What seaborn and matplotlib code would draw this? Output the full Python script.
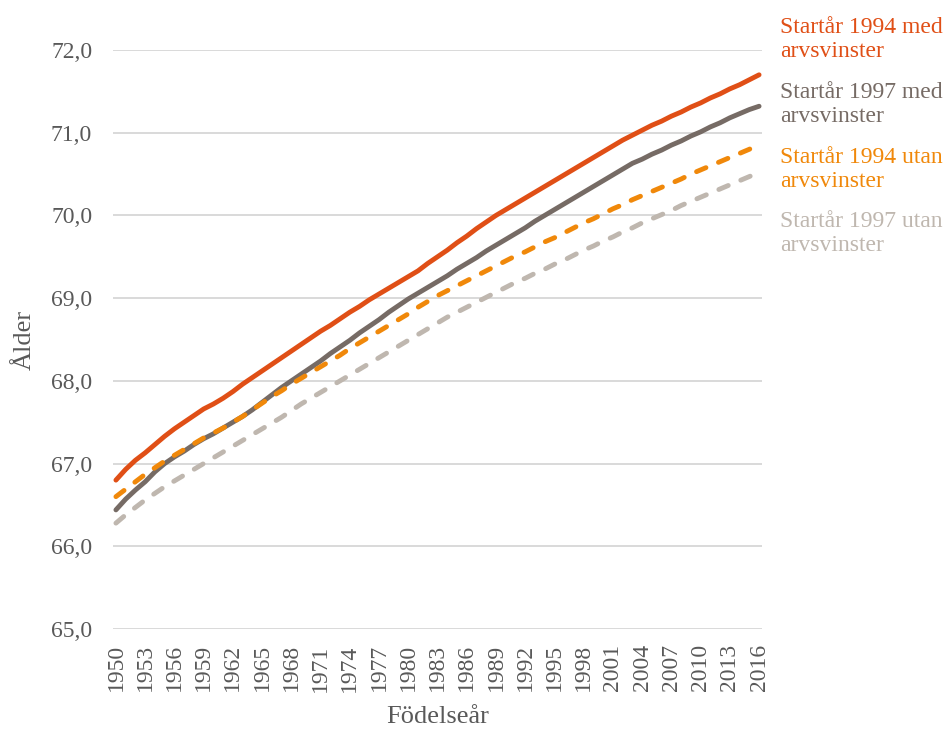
import matplotlib
matplotlib.use("Agg")
import matplotlib.pyplot as plt
import matplotlib.ticker as mticker
import pandas as pd
import seaborn as sns

years = list(range(1950, 2017))

start1994_med = [
    66.80, 66.93, 67.04, 67.13, 67.23, 67.33, 67.42, 67.50, 67.58, 67.66,
    67.72, 67.79, 67.87, 67.96, 68.04, 68.12, 68.20, 68.28, 68.36, 68.44,
    68.52, 68.60, 68.67, 68.75, 68.83, 68.90, 68.98, 69.05, 69.12, 69.19,
    69.26, 69.33, 69.42, 69.50, 69.58, 69.67, 69.75, 69.84, 69.92, 70.00,
    70.07, 70.14, 70.21, 70.28, 70.35, 70.42, 70.49, 70.56, 70.63, 70.70,
    70.77, 70.84, 70.91, 70.97, 71.03, 71.09, 71.14, 71.20, 71.25, 71.31,
    71.36, 71.42, 71.47, 71.53, 71.58, 71.64, 71.70,
]
start1997_med = [
    66.44, 66.57, 66.68, 66.78, 66.90, 67.00, 67.08, 67.15, 67.23, 67.30,
    67.36, 67.43, 67.50, 67.57, 67.65, 67.74, 67.83, 67.92, 68.00, 68.08,
    68.16, 68.24, 68.33, 68.41, 68.49, 68.58, 68.66, 68.74, 68.83, 68.91,
    68.99, 69.06, 69.13, 69.20, 69.27, 69.35, 69.42, 69.49, 69.57, 69.64,
    69.71, 69.78, 69.85, 69.93, 70.00, 70.07, 70.14, 70.21, 70.28, 70.35,
    70.42, 70.49, 70.56, 70.63, 70.68, 70.74, 70.79, 70.85, 70.90, 70.96,
    71.01, 71.07, 71.12, 71.18, 71.23, 71.28, 71.32,
]
start1994_utan = [
    66.60, 66.69, 66.78, 66.87, 66.95, 67.03, 67.10, 67.17, 67.24, 67.31,
    67.37, 67.43, 67.50, 67.57, 67.65, 67.73, 67.81, 67.88, 67.96, 68.03,
    68.10, 68.17, 68.24, 68.31, 68.39, 68.46, 68.53, 68.60, 68.67, 68.74,
    68.81, 68.89, 68.96, 69.03, 69.09, 69.15, 69.21, 69.27, 69.33, 69.39,
    69.45, 69.51, 69.56, 69.62, 69.68, 69.73, 69.79, 69.85, 69.91, 69.96,
    70.02, 70.08, 70.13, 70.19, 70.24, 70.29, 70.34, 70.39, 70.44, 70.50,
    70.55, 70.60, 70.65, 70.70, 70.75, 70.80, 70.86,
]
start1997_utan = [
    66.28, 66.38, 66.47, 66.56, 66.64, 66.72, 66.79, 66.86, 66.93, 67.00,
    67.07, 67.14, 67.21, 67.28, 67.35, 67.42, 67.49, 67.56, 67.64, 67.72,
    67.79, 67.86, 67.93, 68.00, 68.07, 68.14, 68.21, 68.28, 68.35, 68.42,
    68.49, 68.56, 68.63, 68.70, 68.77, 68.83, 68.89, 68.95, 69.01, 69.07,
    69.13, 69.19, 69.24, 69.30, 69.35, 69.41, 69.46, 69.52, 69.58, 69.63,
    69.69, 69.74, 69.80, 69.85, 69.91, 69.96, 70.01, 70.06, 70.12, 70.17,
    70.22, 70.27, 70.32, 70.37, 70.42, 70.47, 70.52,
]

series_names = [
    "Startår 1994 med arvsvinster",
    "Startår 1997 med arvsvinster",
    "Startår 1994 utan arvsvinster",
    "Startår 1997 utan arvsvinster",
]
series_values = [start1994_med, start1997_med, start1994_utan, start1997_utan]
series_colors = ["#E04F16", "#766B65", "#F0880A", "#BFB7AF"]
series_dashed = [False, False, True, True]

x_ticks = list(range(1950, 2017, 3))
y_ticks = [65, 66, 67, 68, 69, 70, 71, 72]

frame = pd.DataFrame({"Födelseår": years})
for name, vals in zip(series_names, series_values):
    frame[name] = vals
long = frame.melt(id_vars="Födelseår", var_name="Serie", value_name="Ålder")

sns.set_theme(style="white")
plt.rcParams["font.family"] = ["Liberation Serif", "DejaVu Serif"]
plt.rcParams["lines.dash_capstyle"] = "round"
plt.rcParams["lines.solid_capstyle"] = "round"

text_gray = "#595959"

fig = plt.figure(figsize=(9.51, 7.29), dpi=100)
ax = fig.add_axes([113 / 951, 1 - 629 / 729, (762 - 113) / 951, (629 - 50) / 729])

dash_map = {n: ((2.1, 2.8) if d else "") for n, d in zip(series_names, series_dashed)}
sns.lineplot(
    data=long, x="Födelseår", y="Ålder", hue="Serie", style="Serie",
    hue_order=series_names, style_order=series_names,
    palette=dict(zip(series_names, series_colors)), dashes=dash_map,
    linewidth=3.5, legend=False, ax=ax, zorder=3,
)

ax.set_ylim(65, 72)
ax.set_xlim(1949.7, 2016.3)
ax.set_yticks(y_ticks)
ax.set_xticks(x_ticks)
ax.yaxis.set_major_formatter(mticker.FuncFormatter(lambda v, p: f"{v:.1f}".replace(".", ",")))
ax.grid(axis="y", color="#D9D9D9", linewidth=1.4, zorder=0)
ax.grid(axis="x", visible=False)
for s in ax.spines.values():
    s.set_visible(False)
ax.tick_params(axis="y", length=0, pad=15, labelsize=17, labelcolor=text_gray)
ax.tick_params(axis="x", length=0, pad=11, labelsize=17, labelcolor=text_gray, labelrotation=90)

ax.set_xlabel("Födelseår", fontsize=19, color=text_gray)
ax.set_ylabel("Ålder", fontsize=19, color=text_gray)
ax.xaxis.set_label_coords(0.5, -0.1515)
ax.yaxis.set_label_coords(-0.136, 0.5)
ax.xaxis.label.set_verticalalignment("center")
ax.yaxis.label.set_verticalalignment("center")

# Series names stacked to the right of the plot, each in its line colour
label_top = [17, 82, 147, 211]
for name, color, top in zip(series_names, series_colors, label_top):
    first, second = name.rsplit(" ", 1)
    fig.text(780 / 951, 1 - top / 729, f"{first}\n{second}", color=color,
             fontsize=17, va="top", ha="left", linespacing=1.2)

fig.savefig("out.png", dpi=100)
